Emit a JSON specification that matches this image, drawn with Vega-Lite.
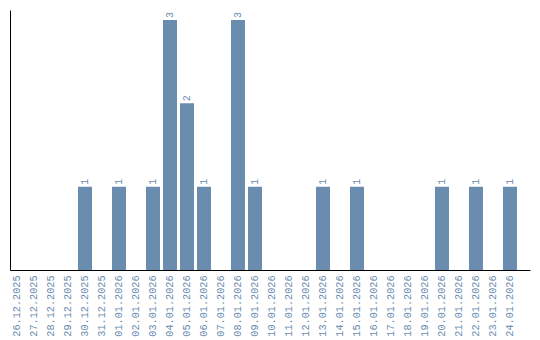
{
  "$schema": "https://vega.github.io/schema/vega-lite/v6.json",
  "autosize": "none",
  "padding": {"left": 10, "top": 10, "right": 10, "bottom": 70},
  "width": 520,
  "height": 260,
  "background": "white",
  "config": {"view": {"stroke": null}},
  "data": {"values": [
    {"date": "26.12.2025", "count": 0},
    {"date": "27.12.2025", "count": 0},
    {"date": "28.12.2025", "count": 0},
    {"date": "29.12.2025", "count": 0},
    {"date": "30.12.2025", "count": 1},
    {"date": "31.12.2025", "count": 0},
    {"date": "01.01.2026", "count": 1},
    {"date": "02.01.2026", "count": 0},
    {"date": "03.01.2026", "count": 1},
    {"date": "04.01.2026", "count": 3},
    {"date": "05.01.2026", "count": 2},
    {"date": "06.01.2026", "count": 1},
    {"date": "07.01.2026", "count": 0},
    {"date": "08.01.2026", "count": 3},
    {"date": "09.01.2026", "count": 1},
    {"date": "10.01.2026", "count": 0},
    {"date": "11.01.2026", "count": 0},
    {"date": "12.01.2026", "count": 0},
    {"date": "13.01.2026", "count": 1},
    {"date": "14.01.2026", "count": 0},
    {"date": "15.01.2026", "count": 1},
    {"date": "16.01.2026", "count": 0},
    {"date": "17.01.2026", "count": 0},
    {"date": "18.01.2026", "count": 0},
    {"date": "19.01.2026", "count": 0},
    {"date": "20.01.2026", "count": 1},
    {"date": "21.01.2026", "count": 0},
    {"date": "22.01.2026", "count": 1},
    {"date": "23.01.2026", "count": 0},
    {"date": "24.01.2026", "count": 1}
  ]},
  "encoding": {
    "x": {
      "field": "date", "type": "ordinal", "sort": null,
      "scale": {"paddingInner": 0.1765, "paddingOuter": 0.383, "align": 0},
      "axis": {
        "title": null, "labelAngle": -90, "labelAlign": "right", "labelBaseline": "middle",
        "ticks": false, "labelPadding": 5, "domainColor": "black", "domainWidth": 1,
        "labelColor": "#6a8caf", "labelFont": "Liberation Mono", "labelFontSize": 10.2
      }
    },
    "y": {
      "field": "count", "type": "quantitative",
      "scale": {"domain": [0, 3.12], "nice": false},
      "axis": {"title": null, "labels": false, "ticks": false, "grid": false, "domainColor": "black", "domainWidth": 1}
    }
  },
  "layer": [
    {"mark": {"type": "bar", "color": "#6a8caf"}},
    {
      "transform": [{"filter": "datum.count > 0"}],
      "mark": {"type": "text", "angle": -90, "align": "left", "baseline": "middle", "dx": 2, "color": "#6a8caf", "font": "Liberation Mono", "fontSize": 10},
      "encoding": {"text": {"field": "count", "type": "quantitative"}}
    }
  ]
}
